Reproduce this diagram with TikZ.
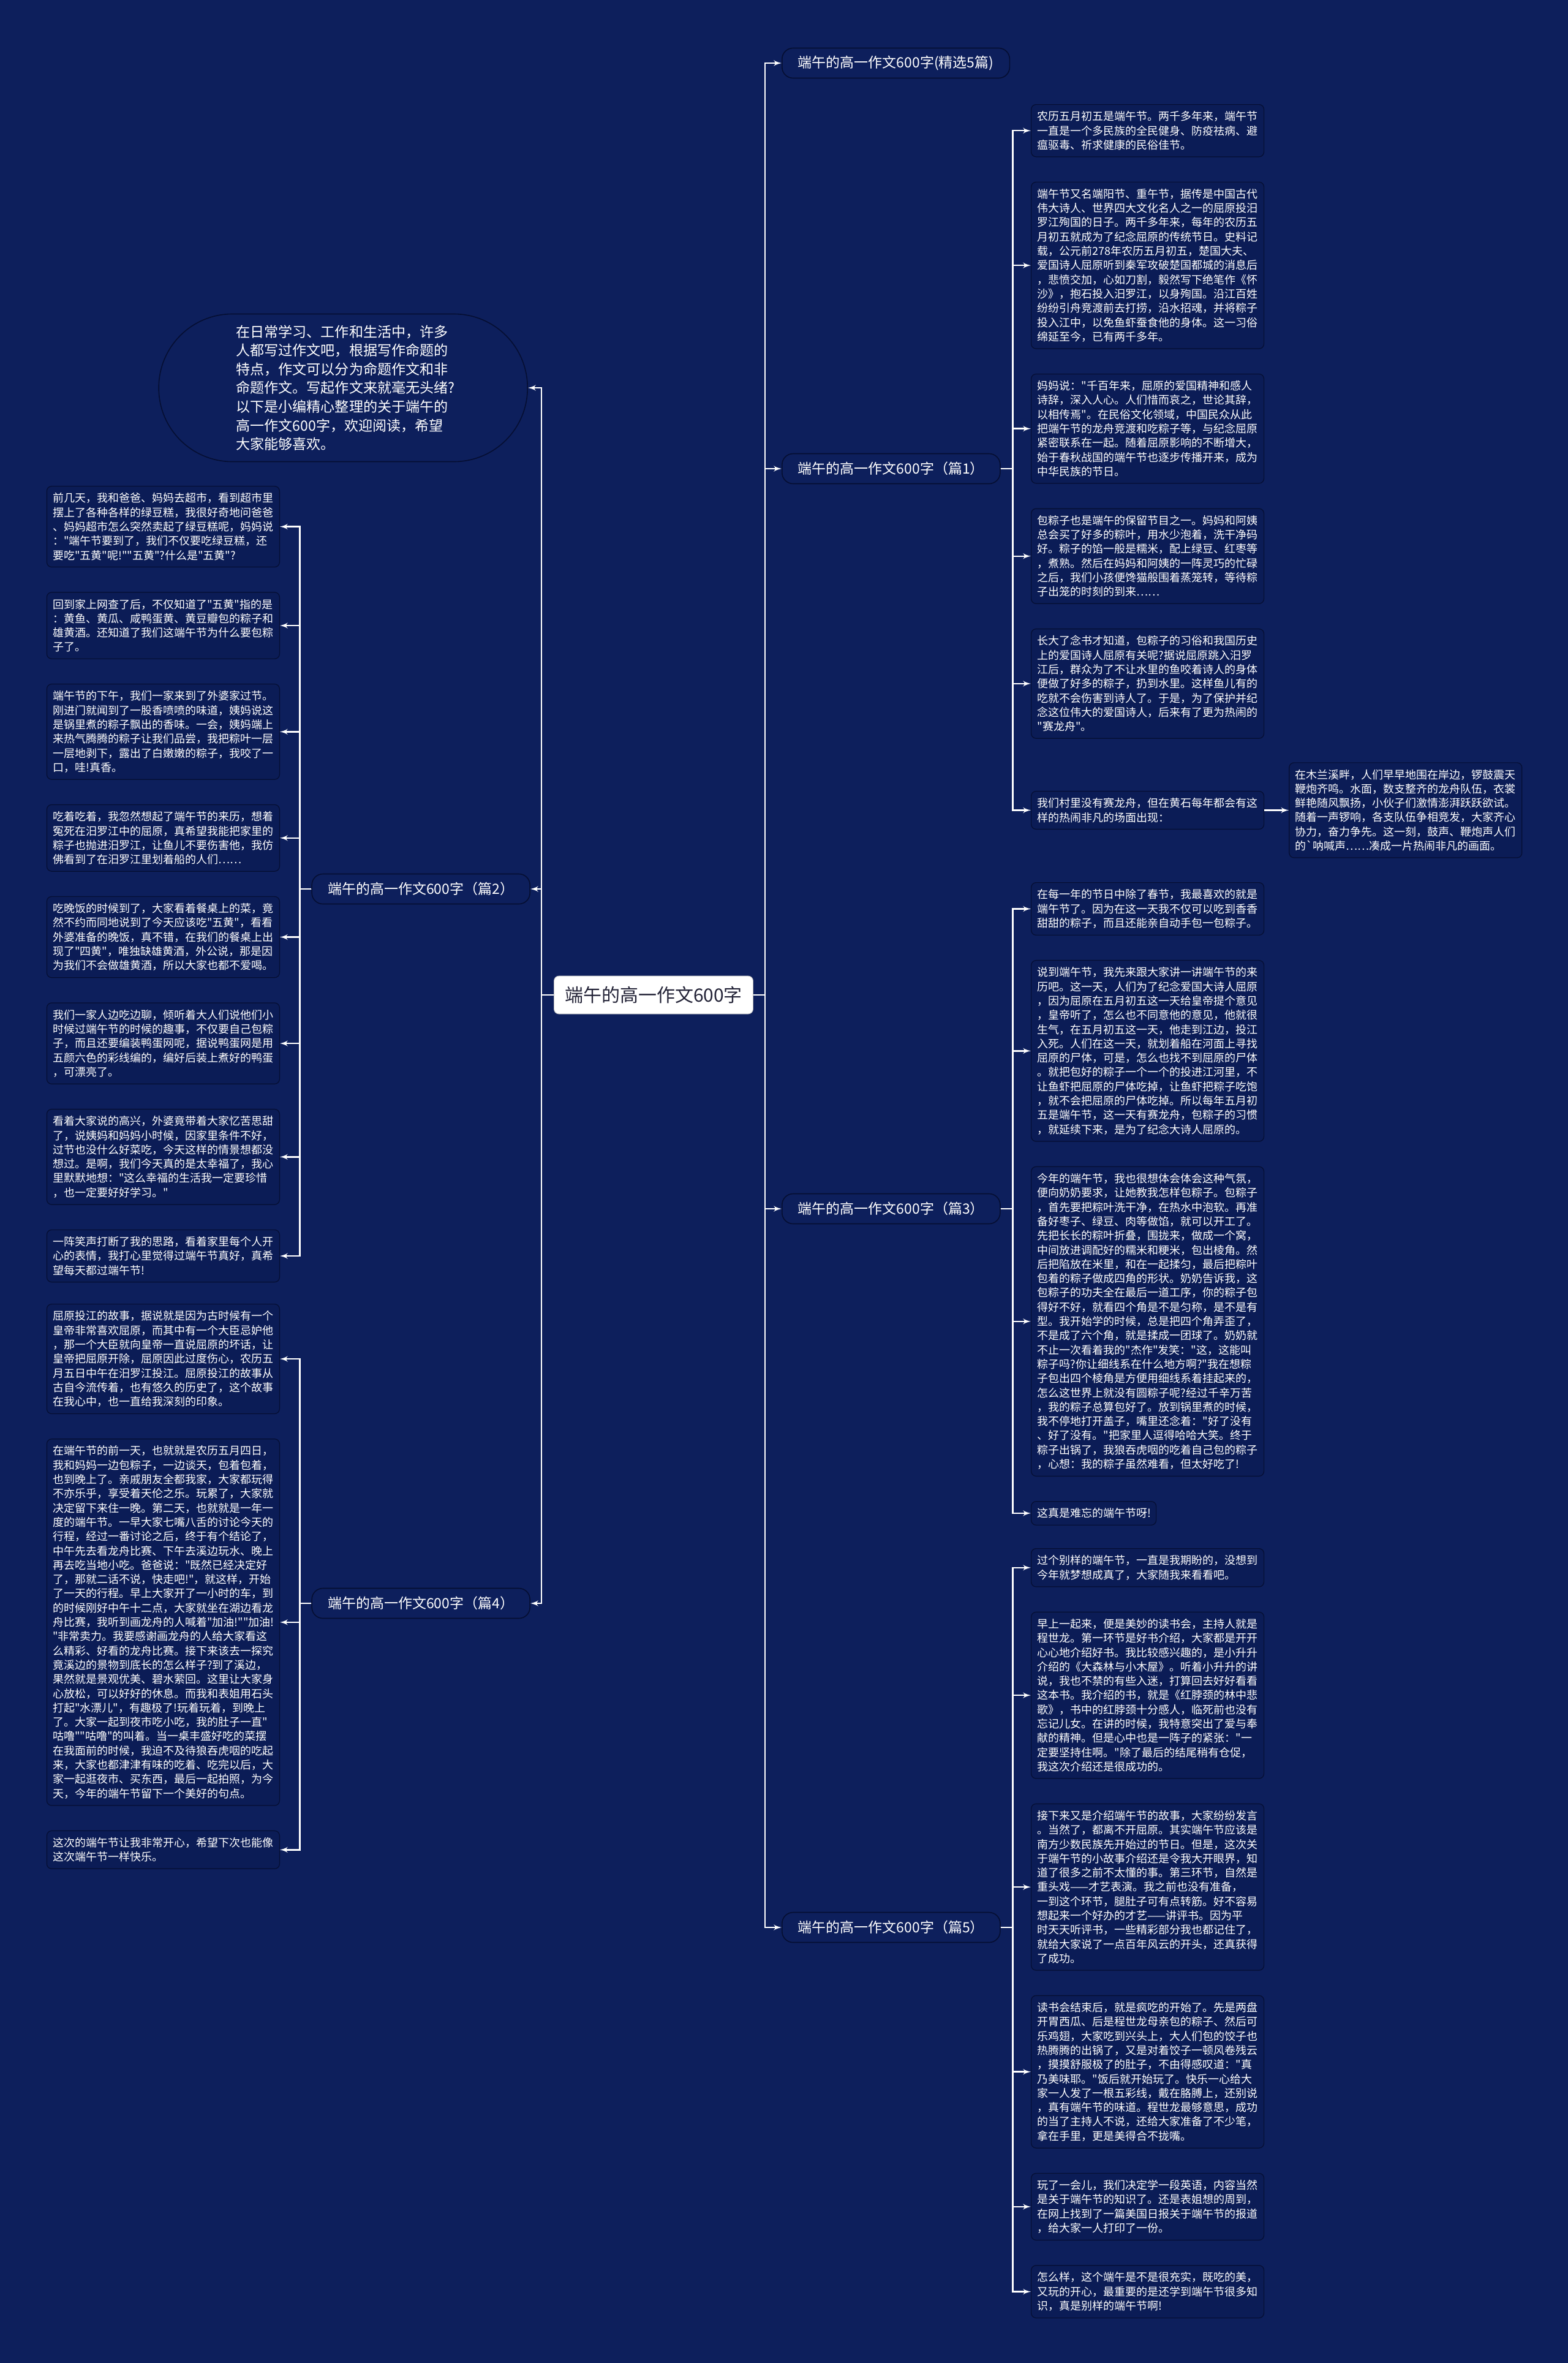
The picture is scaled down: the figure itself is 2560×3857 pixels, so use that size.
\documentclass[tikz,border=0pt]{standalone}
\usepackage{fontspec}
\setmainfont{Noto Sans CJK SC}
\newfontfamily\cjk{Noto Sans CJK SC}
\usepackage{tikz}
\usetikzlibrary{shapes,arrows,positioning,calc}
\definecolor{bgcol}{RGB}{13,31,92}
\definecolor{boxcol}{RGB}{11,28,86}
\definecolor{edgecol}{RGB}{5,14,50}
\definecolor{roottext}{RGB}{35,35,55}
\tikzstyle{root} = [draw=gray!50, fill=white, rectangle, rounded corners=4pt, text=roottext, minimum width=162.5pt, minimum height=31pt, font=\cjk\fontsize{15pt}{18pt}\selectfont]
\tikzstyle{branch} = [draw=edgecol, line width=0.8pt, fill=bgcol, rectangle, rounded corners=9pt, text=white, minimum height=24.5pt, inner xsep=13pt, font=\cjk\fontsize{11.5pt}{13.5pt}\selectfont]
\tikzstyle{intro} = [draw=edgecol, line width=0.8pt, fill=bgcol, rectangle, rounded corners=60pt, minimum width=301pt, minimum height=120.5pt, text width=175pt, align=left, text=white, font=\cjk\fontsize{11.55pt}{15.3pt}\selectfont]
\tikzstyle{leaf} = [draw=edgecol, line width=0.6pt, fill=boxcol, rectangle, rounded corners=4pt, text width=180pt, inner xsep=5pt, inner ysep=5.5pt, align=left, text=white, font=\cjk\fontsize{9pt}{11.65pt}\selectfont]
\tikzstyle{line} = [draw, white, line width=1.2pt, -latex']

\begin{document}
\begin{tikzpicture}[x=0.5pt, y=-0.5pt, node distance=20pt, auto]
    \fill [bgcol] (0,0) rectangle (2560,3857);
    % Nodes
    \node [root] (root) at (1067,1624) {端午的高一作文600字};
    \node [branch, anchor=west] (b0) at (1276,103) {端午的高一作文600字(精选5篇)};
    \node [branch, anchor=west] (b1) at (1276,765) {端午的高一作文600字（篇1）};
    \node [branch, anchor=west] (b3) at (1276,1973) {端午的高一作文600字（篇3）};
    \node [branch, anchor=west] (b5) at (1276,3146) {端午的高一作文600字（篇5）};
    \node [intro, anchor=east] (intro) at (862,633) {在日常学习、工作和生活中，许多\\人都写过作文吧，根据写作命题的\\特点，作文可以分为命题作文和非\\命题作文。写起作文来就毫无头绪?\\以下是小编精心整理的关于端午的\\高一作文600字，欢迎阅读，希望\\大家能够喜欢。};
    \node [branch, anchor=east] (b2) at (866,1451) {端午的高一作文600字（篇2）};
    \node [branch, anchor=east] (b4) at (866,2617) {端午的高一作文600字（篇4）};

    % Nodes (篇1)
    \node [leaf, anchor=north west] (r1) at (1683,170) {农历五月初五是端午节。两千多年来，端午节\\一直是一个多民族的全民健身、防疫祛病、避\\瘟驱毒、祈求健康的民俗佳节。};
    \node [leaf, below=of r1] (r2) {端午节又名端阳节、重午节，据传是中国古代\\伟大诗人、世界四大文化名人之一的屈原投汨\\罗江殉国的日子。两千多年来，每年的农历五\\月初五就成为了纪念屈原的传统节日。史料记\\载，公元前278年农历五月初五，楚国大夫、\\爱国诗人屈原听到秦军攻破楚国都城的消息后\\，悲愤交加，心如刀割，毅然写下绝笔作《怀\\沙》，抱石投入汨罗江，以身殉国。沿江百姓\\纷纷引舟竞渡前去打捞，沿水招魂，并将粽子\\投入江中，以免鱼虾蚕食他的身体。这一习俗\\绵延至今，已有两千多年。};
    \node [leaf, below=of r2] (r3) {妈妈说："千百年来，屈原的爱国精神和感人\\诗辞，深入人心。人们惜而哀之，世论其辞，\\以相传焉"。在民俗文化领域，中国民众从此\\把端午节的龙舟竞渡和吃粽子等，与纪念屈原\\紧密联系在一起。随着屈原影响的不断增大，\\始于春秋战国的端午节也逐步传播开来，成为\\中华民族的节日。};
    \node [leaf, below=of r3] (r4) {包粽子也是端午的保留节目之一。妈妈和阿姨\\总会买了好多的粽叶，用水少泡着，洗干净码\\好。粽子的馅一般是糯米，配上绿豆、红枣等\\，煮熟。然后在妈妈和阿姨的一阵灵巧的忙碌\\之后，我们小孩便馋猫般围着蒸笼转，等待粽\\子出笼的时刻的到来……};
    \node [leaf, below=of r4] (r5) {长大了念书才知道，包粽子的习俗和我国历史\\上的爱国诗人屈原有关呢?据说屈原跳入汨罗\\江后，群众为了不让水里的鱼咬着诗人的身体\\便做了好多的粽子，扔到水里。这样鱼儿有的\\吃就不会伤害到诗人了。于是，为了保护并纪\\念这位伟大的爱国诗人，后来有了更为热闹的\\"赛龙舟"。};
    \node [leaf, below=42.5pt of r5] (r6) {我们村里没有赛龙舟，但在黄石每年都会有这\\样的热闹非凡的场面出现：};
    \node [leaf, right=20pt of r6] (r7) {在木兰溪畔，人们早早地围在岸边，锣鼓震天\\鞭炮齐鸣。水面，数支整齐的龙舟队伍，衣裳\\鲜艳随风飘扬，小伙子们激情澎湃跃跃欲试。\\随着一声锣响，各支队伍争相竞发，大家齐心\\协力，奋力争先。这一刻，鼓声、鞭炮声人们\\的`呐喊声……凑成一片热闹非凡的画面。};

    % Nodes (篇3)
    \node [leaf, anchor=north west] (s1) at (1683,1440) {在每一年的节日中除了春节，我最喜欢的就是\\端午节了。因为在这一天我不仅可以吃到香香\\甜甜的粽子，而且还能亲自动手包一包粽子。};
    \node [leaf, below=of s1] (s2) {说到端午节，我先来跟大家讲一讲端午节的来\\历吧。这一天，人们为了纪念爱国大诗人屈原\\，因为屈原在五月初五这一天给皇帝提个意见\\，皇帝听了，怎么也不同意他的意见，他就很\\生气，在五月初五这一天，他走到江边，投江\\入死。人们在这一天，就划着船在河面上寻找\\屈原的尸体，可是，怎么也找不到屈原的尸体\\。就把包好的粽子一个一个的投进江河里，不\\让鱼虾把屈原的尸体吃掉，让鱼虾把粽子吃饱\\，就不会把屈原的尸体吃掉。所以每年五月初\\五是端午节，这一天有赛龙舟，包粽子的习惯\\，就延续下来，是为了纪念大诗人屈原的。};
    \node [leaf, below=of s2] (s3) {今年的端午节，我也很想体会体会这种气氛，\\便向奶奶要求，让她教我怎样包粽子。包粽子\\，首先要把粽叶洗干净，在热水中泡软。再准\\备好枣子、绿豆、肉等做馅，就可以开工了。\\先把长长的粽叶折叠，围拢来，做成一个窝，\\中间放进调配好的糯米和粳米，包出棱角。然\\后把陷放在米里，和在一起揉匀，最后把粽叶\\包着的粽子做成四角的形状。奶奶告诉我，这\\包粽子的功夫全在最后一道工序，你的粽子包\\得好不好，就看四个角是不是匀称，是不是有\\型。我开始学的时候，总是把四个角弄歪了，\\不是成了六个角，就是揉成一团球了。奶奶就\\不止一次看着我的"杰作"发笑："这，这能叫\\粽子吗?你让细线系在什么地方啊?"我在想粽\\子包出四个棱角是方便用细线系着挂起来的，\\怎么这世界上就没有圆粽子呢?经过千辛万苦\\，我的粽子总算包好了。放到锅里煮的时候，\\我不停地打开盖子，嘴里还念着："好了没有\\、好了没有。"把家里人逗得哈哈大笑。终于\\粽子出锅了，我狼吞虎咽的吃着自己包的粽子\\，心想：我的粽子虽然难看，但太好吃了!};
    \node [leaf, text width=92pt, below=of s3.south west, anchor=north west] (s4) {这真是难忘的端午节呀!};

    % Nodes (篇5)
    \node [leaf, anchor=north west] (t1) at (1683,2527) {过个别样的端午节，一直是我期盼的，没想到\\今年就梦想成真了，大家随我来看看吧。};
    \node [leaf, below=of t1] (t2) {早上一起来，便是美妙的读书会，主持人就是\\程世龙。第一环节是好书介绍，大家都是开开\\心心地介绍好书。我比较感兴趣的，是小升升\\介绍的《大森林与小木屋》。听着小升升的讲\\说，我也不禁的有些入迷，打算回去好好看看\\这本书。我介绍的书，就是《红脖颈的林中悲\\歌》，书中的红脖颈十分感人，临死前也没有\\忘记儿女。在讲的时候，我特意突出了爱与奉\\献的精神。但是心中也是一阵子的紧张："一\\定要坚持住啊。"除了最后的结尾稍有仓促，\\我这次介绍还是很成功的。};
    \node [leaf, below=of t2] (t3) {接下来又是介绍端午节的故事，大家纷纷发言\\。当然了，都离不开屈原。其实端午节应该是\\南方少数民族先开始过的节日。但是，这次关\\于端午节的小故事介绍还是令我大开眼界，知\\道了很多之前不太懂的事。第三环节，自然是\\重头戏——才艺表演。我之前也没有准备，\\一到这个环节，腿肚子可有点转筋。好不容易\\想起来一个好办的才艺——讲评书。因为平\\时天天听评书，一些精彩部分我也都记住了，\\就给大家说了一点百年风云的开头，还真获得\\了成功。};
    \node [leaf, below=of t3] (t4) {读书会结束后，就是疯吃的开始了。先是两盘\\开胃西瓜、后是程世龙母亲包的粽子、然后可\\乐鸡翅，大家吃到兴头上，大人们包的饺子也\\热腾腾的出锅了，又是对着饺子一顿风卷残云\\，摸摸舒服极了的肚子，不由得感叹道："真\\乃美味耶。"饭后就开始玩了。快乐一心给大\\家一人发了一根五彩线，戴在胳膊上，还别说\\，真有端午节的味道。程世龙最够意思，成功\\的当了主持人不说，还给大家准备了不少笔，\\拿在手里，更是美得合不拢嘴。};
    \node [leaf, below=of t4] (t5) {玩了一会儿，我们决定学一段英语，内容当然\\是关于端午节的知识了。还是表姐想的周到，\\在网上找到了一篇美国日报关于端午节的报道\\，给大家一人打印了一份。};
    \node [leaf, below=of t5] (t6) {怎么样，这个端午是不是很充实，既吃的美，\\又玩的开心，最重要的是还学到端午节很多知\\识，真是别样的端午节啊!};

    % Nodes (篇2)
    \node [leaf, anchor=north east] (l1) at (457,793) {前几天，我和爸爸、妈妈去超市，看到超市里\\摆上了各种各样的绿豆糕，我很好奇地问爸爸\\、妈妈超市怎么突然卖起了绿豆糕呢，妈妈说\\："端午节要到了，我们不仅要吃绿豆糕，还\\要吃"五黄"呢!""五黄"?什么是"五黄"?};
    \node [leaf, below=of l1] (l2) {回到家上网查了后，不仅知道了"五黄"指的是\\：黄鱼、黄瓜、咸鸭蛋黄、黄豆瓣包的粽子和\\雄黄酒。还知道了我们这端午节为什么要包粽\\子了。};
    \node [leaf, below=of l2] (l3) {端午节的下午，我们一家来到了外婆家过节。\\刚进门就闻到了一股香喷喷的味道，姨妈说这\\是锅里煮的粽子飘出的香味。一会，姨妈端上\\来热气腾腾的粽子让我们品尝，我把粽叶一层\\一层地剥下，露出了白嫩嫩的粽子，我咬了一\\口，哇!真香。};
    \node [leaf, below=of l3] (l4) {吃着吃着，我忽然想起了端午节的来历，想着\\冤死在汨罗江中的屈原，真希望我能把家里的\\粽子也抛进汨罗江，让鱼儿不要伤害他，我仿\\佛看到了在汨罗江里划着船的人们……};
    \node [leaf, below=of l4] (l5) {吃晚饭的时候到了，大家看着餐桌上的菜，竟\\然不约而同地说到了今天应该吃"五黄"，看看\\外婆准备的晚饭，真不错，在我们的餐桌上出\\现了"四黄"，唯独缺雄黄酒，外公说，那是因\\为我们不会做雄黄酒，所以大家也都不爱喝。};
    \node [leaf, below=of l5] (l6) {我们一家人边吃边聊，倾听着大人们说他们小\\时候过端午节的时候的趣事，不仅要自己包粽\\子，而且还要编装鸭蛋网呢，据说鸭蛋网是用\\五颜六色的彩线编的，编好后装上煮好的鸭蛋\\，可漂亮了。};
    \node [leaf, below=of l6] (l7) {看着大家说的高兴，外婆竟带着大家忆苦思甜\\了，说姨妈和妈妈小时候，因家里条件不好，\\过节也没什么好菜吃，今天这样的情景想都没\\想过。是啊，我们今天真的是太幸福了，我心\\里默默地想："这么幸福的生活我一定要珍惜\\，也一定要好好学习。"};
    \node [leaf, below=of l7] (l8) {一阵笑声打断了我的思路，看着家里每个人开\\心的表情，我打心里觉得过端午节真好，真希\\望每天都过端午节!};

    % Nodes (篇4)
    \node [leaf, anchor=north east] (m1) at (457,2128) {屈原投江的故事，据说就是因为古时候有一个\\皇帝非常喜欢屈原，而其中有一个大臣忌妒他\\，那一个大臣就向皇帝一直说屈原的坏话，让\\皇帝把屈原开除，屈原因此过度伤心，农历五\\月五日中午在汨罗江投江。屈原投江的故事从\\古自今流传着，也有悠久的历史了，这个故事\\在我心中，也一直给我深刻的印象。};
    \node [leaf, below=of m1] (m2) {在端午节的前一天，也就就是农历五月四日，\\我和妈妈一边包粽子，一边谈天，包着包着，\\也到晚上了。亲戚朋友全都我家，大家都玩得\\不亦乐乎，享受着天伦之乐。玩累了，大家就\\决定留下来住一晚。第二天，也就就是一年一\\度的端午节。一早大家七嘴八舌的讨论今天的\\行程，经过一番讨论之后，终于有个结论了，\\中午先去看龙舟比赛、下午去溪边玩水、晚上\\再去吃当地小吃。爸爸说："既然已经决定好\\了，那就二话不说，快走吧!"，就这样，开始\\了一天的行程。早上大家开了一小时的车，到\\的时候刚好中午十二点，大家就坐在湖边看龙\\舟比赛，我听到画龙舟的人喊着"加油!""加油!\\"非常卖力。我要感谢画龙舟的人给大家看这\\么精彩、好看的龙舟比赛。接下来该去一探究\\竟溪边的景物到底长的怎么样子?到了溪边，\\果然就是景观优美、碧水萦回。这里让大家身\\心放松，可以好好的休息。而我和表姐用石头\\打起"水漂儿"，有趣极了!玩着玩着，到晚上\\了。大家一起到夜市吃小吃，我的肚子一直"\\咕噜""咕噜"的叫着。当一桌丰盛好吃的菜摆\\在我面前的时候，我迫不及待狼吞虎咽的吃起\\来，大家也都津津有味的吃着、吃完以后，大\\家一起逛夜市、买东西，最后一起拍照，为今\\天，今年的端午节留下一个美好的句点。};
    \node [leaf, below=of m2] (m3) {这次的端午节让我非常开心，希望下次也能像\\这次端午节一样快乐。};

    % Paths
    \path [line] (root.east) -- ++(19,0) |- (b0.west);
    \path [line] (root.east) -- ++(19,0) |- (b1.west);
    \path [line] (root.east) -- ++(19,0) |- (b3.west);
    \path [line] (root.east) -- ++(19,0) |- (b5.west);
    \path [line] (root.west) -- ++(-20,0) |- (intro.east);
    \path [line] (root.west) -- ++(-20,0) |- (b2.east);
    \path [line] (root.west) -- ++(-20,0) |- (b4.east);

    \path [line] (b1.east) -- ++(20,0) |- (r1.west);
    \path [line] (b1.east) -- ++(20,0) |- (r2.west);
    \path [line] (b1.east) -- ++(20,0) |- (r3.west);
    \path [line] (b1.east) -- ++(20,0) |- (r4.west);
    \path [line] (b1.east) -- ++(20,0) |- (r5.west);
    \path [line] (b1.east) -- ++(20,0) |- (r6.west);
    \path [line] (r6) -- (r7);

    \path [line] (b3.east) -- ++(20,0) |- (s1.west);
    \path [line] (b3.east) -- ++(20,0) |- (s2.west);
    \path [line] (b3.east) -- ++(20,0) |- (s3.west);
    \path [line] (b3.east) -- ++(20,0) |- (s4.west);

    \path [line] (b5.east) -- ++(20,0) |- (t1.west);
    \path [line] (b5.east) -- ++(20,0) |- (t2.west);
    \path [line] (b5.east) -- ++(20,0) |- (t3.west);
    \path [line] (b5.east) -- ++(20,0) |- (t4.west);
    \path [line] (b5.east) -- ++(20,0) |- (t5.west);
    \path [line] (b5.east) -- ++(20,0) |- (t6.west);

    \path [line] (b2.west) -- ++(-19,0) |- (l1.east);
    \path [line] (b2.west) -- ++(-19,0) |- (l2.east);
    \path [line] (b2.west) -- ++(-19,0) |- (l3.east);
    \path [line] (b2.west) -- ++(-19,0) |- (l4.east);
    \path [line] (b2.west) -- ++(-19,0) |- (l5.east);
    \path [line] (b2.west) -- ++(-19,0) |- (l6.east);
    \path [line] (b2.west) -- ++(-19,0) |- (l7.east);
    \path [line] (b2.west) -- ++(-19,0) |- (l8.east);

    \path [line] (b4.west) -- ++(-19,0) |- (m1.east);
    \path [line] (b4.west) -- ++(-19,0) |- (m2.east);
    \path [line] (b4.west) -- ++(-19,0) |- (m3.east);
\end{tikzpicture}
\end{document}
